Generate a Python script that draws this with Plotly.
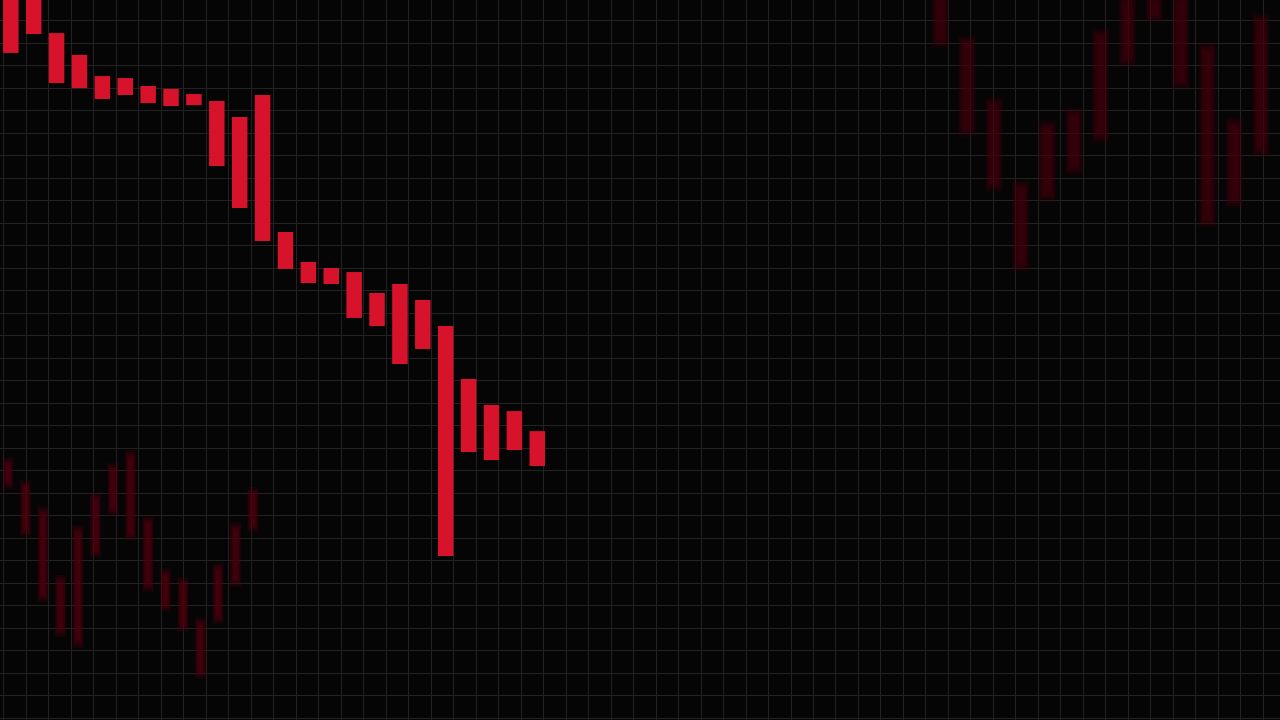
import plotly.graph_objects as go

# ---- data (price units) ----
main_idx = list(range(24))
main_top = [32.2, 32.2, 30.44, 29.47, 28.53, 28.44, 28.09, 27.96, 27.73, 27.42, 26.71, 27.69,
            21.60, 20.27, 20.00, 19.82, 18.89, 19.29, 18.58, 17.42, 15.07, 13.91, 13.64, 12.75]
main_bottom = [29.56, 30.40, 28.22, 28.00, 27.51, 27.69, 27.33, 27.20, 27.24, 24.53, 22.67, 21.20,
               19.96, 19.33, 19.29, 17.78, 17.42, 15.73, 16.40, 7.20, 11.82, 11.47, 11.91, 11.20]

ghost_a_idx = list(range(15))
ghost_a_top = [11.60, 10.58, 9.42, 6.36, 8.58, 10.04, 11.33, 11.91, 8.98, 6.67, 6.27, 4.49, 6.89, 8.71, 10.27]
ghost_a_bottom = [10.18, 8.04, 5.16, 3.60, 3.11, 7.11, 8.98, 7.87, 5.60, 4.71, 3.82, 1.73, 4.18, 5.82, 8.27]

ghost_b_idx = list(range(13))
ghost_b_top = [32.2, 30.36, 27.60, 23.91, 26.58, 27.16, 30.67, 32.2, 32.2, 32.2, 30.04, 26.71, 31.33]
ghost_b_bottom = [29.78, 25.82, 23.38, 19.82, 22.93, 24.13, 25.56, 28.93, 30.89, 27.91, 21.78, 22.67, 24.93]

BG = "#050505"
GRID = "#222222"
RED = "#d7132c"

fig = go.Figure()


def soft_bars(idx, top, bottom, width, xaxis, rgb, alphas, inset):
    # several stacked translucent layers give a soft, blurred edge
    n = len(alphas)
    for k, a in enumerate(alphas):
        f = 1.0 - k * (1.0 - 0.4) / (n - 1)
        ins = inset * k / (n - 1)
        b = [lo + ins for lo in bottom]
        h = [max(hi - lo - 2 * ins, 0.05) for hi, lo in zip(top, bottom)]
        fig.add_trace(go.Bar(
            x=idx, y=h, base=b, width=width * f, xaxis=xaxis, yaxis="y",
            marker=dict(color=f"rgba({rgb},{a})", line=dict(width=0)),
            hoverinfo="skip", showlegend=False,
        ))


# main series on the primary axis
fig.add_trace(go.Bar(
    x=main_idx, y=[t - b for t, b in zip(main_top, main_bottom)], base=main_bottom,
    width=0.677, xaxis="x", yaxis="y",
    marker=dict(color=RED, line=dict(width=0)), showlegend=False,
))

soft_bars(ghost_a_idx, ghost_a_top, ghost_a_bottom, 0.68, "x2", "80,0,14", [0.18, 0.22, 0.28, 0.32, 0.32], 0.35)
soft_bars(ghost_b_idx, ghost_b_top, ghost_b_bottom, 0.7, "x3", "70,0,14", [0.15, 0.2, 0.24, 0.28, 0.28], 0.4)

hidden = dict(visible=False, showgrid=False, zeroline=False, fixedrange=True)
fig.update_layout(
    width=1280, height=720,
    margin=dict(l=0, r=0, t=0, b=0),
    paper_bgcolor=BG, plot_bgcolor=BG,
    barmode="overlay",
    showlegend=False,
    xaxis=dict(range=[-0.472, 55.448], tick0=-0.319, dtick=0.98296, showgrid=True, gridcolor=GRID,
               gridwidth=1, zeroline=False, showticklabels=False, ticks="", showline=False),
    yaxis=dict(range=[-0.089, 31.911], dtick=1, tick0=0, showgrid=True, gridcolor=GRID,
               gridwidth=1, zeroline=False, showticklabels=False, ticks="", showline=False),
    xaxis2=dict(overlaying="x", anchor="y", range=[-0.457, 72.686], **hidden),
    xaxis3=dict(overlaying="x", anchor="y", range=[-35.225, 12.715], **hidden),
)

fig.write_html("out.html", config=dict(displayModeBar=False),
               post_script="document.body.style.margin='0';document.body.style.background='#050505';")
